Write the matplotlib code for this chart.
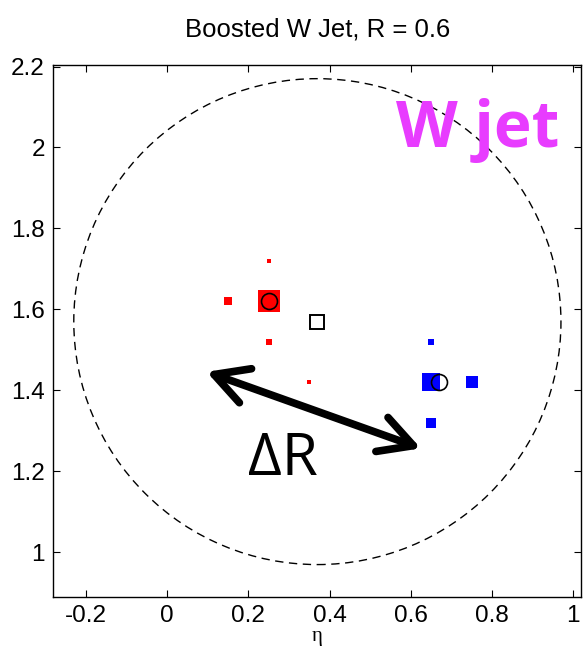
import matplotlib
matplotlib.use("Agg")
import matplotlib.pyplot as plt
from matplotlib.patches import Circle
from matplotlib.ticker import FormatStrFormatter

# Jet constituents (eta, phi) and marker sizes (proportional to pT)
red_eta = [0.25, 0.15, 0.25, 0.25, 0.35]
red_phi = [1.62, 1.62, 1.72, 1.52, 1.42]
red_size = [15.5, 5.8, 2.2, 5.0, 2.2]

blue_eta = [0.65, 0.75, 0.65, 0.65]
blue_phi = [1.42, 1.42, 1.52, 1.32]
blue_size = [13.0, 8.6, 4.3, 6.5]

# Subjet axes and the fat-jet axis
subjet_eta = [0.25, 0.67]
subjet_phi = [1.62, 1.42]
jet_eta = 0.37
jet_phi = 1.57
jet_R = 0.6

x_ticks = [-0.2, 0, 0.2, 0.4, 0.6, 0.8, 1.0]
y_ticks = [1.0, 1.2, 1.4, 1.6, 1.8, 2.0, 2.2]

fig = plt.figure(figsize=(5.83, 6.46), dpi=100)
ax = fig.add_axes([0.0914, 0.0759, 0.9056, 0.8239])

# Jet cone
ax.add_patch(Circle((jet_eta, jet_phi), jet_R, fill=False, edgecolor="black",
                    linewidth=1.0, linestyle=(0, (6, 4))))

for e, p, s in zip(red_eta, red_phi, red_size):
    ax.plot(e, p, "s", color="red", markersize=s, markeredgewidth=0)
for e, p, s in zip(blue_eta, blue_phi, blue_size):
    ax.plot(e, p, "s", color="blue", markersize=s, markeredgewidth=0)

ax.plot(subjet_eta, subjet_phi, "o", markerfacecolor="none",
        markeredgecolor="black", markersize=11.5, markeredgewidth=1.2,
        linestyle="none")
ax.plot(jet_eta, jet_phi, "s", markerfacecolor="none",
        markeredgecolor="black", markersize=9.5, markeredgewidth=1.4)

# Separation between the two subjets
ax.annotate("", xy=(0.097, 1.446), xytext=(0.625, 1.257),
            arrowprops=dict(arrowstyle="<->, head_length=1.2, head_width=0.65",
                            mutation_scale=20, lw=5.5, color="black",
                            shrinkA=0, shrinkB=0, capstyle="round",
                            joinstyle="round"))
ax.text(0.285, 1.192, "\u0394R", fontsize=42, family=["Open Sans", "DejaVu Sans"],
        ha="center", va="baseline", color="black")
ax.text(0.765, 2.001, "W jet", fontsize=46, family=["Open Sans", "DejaVu Sans"],
        fontweight="bold", ha="center", va="baseline", color="#e83cff")

ax.set_xlim(-0.2805, 1.020)
ax.set_ylim(0.890, 2.2044)
ax.set_xticks(x_ticks)
ax.set_yticks(y_ticks)
ax.xaxis.set_major_formatter(FormatStrFormatter("%g"))
ax.yaxis.set_major_formatter(FormatStrFormatter("%g"))
ax.tick_params(direction="in", length=5, width=0.8, top=True, right=True,
               labelsize=17.5, pad=6)
for lbl in ax.get_xticklabels() + ax.get_yticklabels():
    lbl.set_family(["Liberation Sans", "DejaVu Sans"])
for sp in ax.spines.values():
    sp.set_linewidth(1.0)

ax.set_xlabel("\u03b7", fontsize=15, family=["Liberation Serif", "DejaVu Serif"],
              labelpad=0)
ax.set_title("Boosted W Jet, R = 0.6", fontsize=18.5,
             family=["Liberation Sans", "DejaVu Sans"], pad=20.5)

fig.savefig("out.png", dpi=100)
